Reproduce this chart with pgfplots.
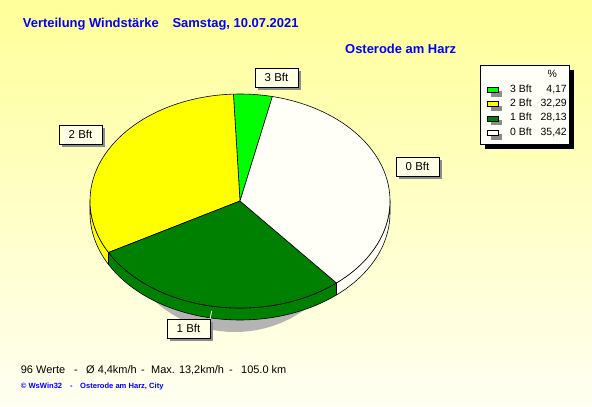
\documentclass[border=0pt]{standalone}
\usepackage{pgfplots}
\pgfplotsset{compat=1.18}
\usepackage{pgfplotstable}
\usepackage{fontspec}
\setmainfont{Liberation Sans}

\definecolor{bgtop}{HTML}{FFFF99}
\definecolor{bgbot}{HTML}{FFFFF2}
\definecolor{bft3}{HTML}{00FF00}
\definecolor{bft2}{HTML}{FFFF00}
\definecolor{bft1}{HTML}{008000}
\definecolor{bft0}{HTML}{FFFFF8}
\definecolor{tblue}{HTML}{0000FF}
\definecolor{boxfill}{HTML}{FFFFE6}
\definecolor{legfill}{HTML}{FFFFF8}
\definecolor{shgray}{HTML}{8C8C8C}
\definecolor{pieshadow}{HTML}{B4B4B4}

% Windstaerke-Verteilung in Prozent
\pgfplotstableread{
bft pct
3 4.17
2 32.29
1 28.13
0 35.42
}\piedata

\pgfplotstablegetelem{0}{pct}\of\piedata \let\pA\pgfplotsretval
\pgfplotstablegetelem{1}{pct}\of\piedata \let\pB\pgfplotsretval
\pgfplotstablegetelem{2}{pct}\of\piedata \let\pC\pgfplotsretval
\pgfplotstablegetelem{3}{pct}\of\piedata \let\pD\pgfplotsretval

\pgfmathsetmacro\aS{77.5}
\pgfmathsetmacro\aA{\aS+3.6*\pA}
\pgfmathsetmacro\aB{\aA+3.6*\pB}
\pgfmathsetmacro\aC{\aB+3.6*\pC}
\pgfmathsetmacro\aD{\aC+3.6*\pD}

\newcommand{\slice}[3]{%
  \filldraw[fill=#3, draw=black, line width=0.6bp, line join=round]
    (axis cs:240,201) -- ++(#1:150bp and 107bp)
    arc[start angle=#1, end angle=#2, x radius=150bp, y radius=107bp] -- cycle;}
\newcommand{\side}[3]{%
  \filldraw[fill=#3, draw=black, line width=0.6bp, line join=round]
    (axis cs:240,201) ++(#1:150bp and 107bp)
    arc[start angle=#1, end angle=#2, x radius=150bp, y radius=107bp]
    -- ++(0,-12bp)
    arc[start angle=#2, end angle=#1, x radius=150bp, y radius=107bp] -- cycle;}

\begin{document}
\begin{tikzpicture}
\begin{axis}[width=592bp, height=407bp, scale only axis,
  xmin=0, xmax=592, ymin=0, ymax=407, y dir=reverse,
  axis lines=none, ticks=none, clip=false]

% background
\shade[top color=bgtop, bottom color=bgbot] (axis cs:0,0) rectangle (axis cs:592,407);

% pie shadow
\fill[pieshadow] (axis cs:235,216) ellipse[x radius=118bp, y radius=116bp];

% pie sides (front)
\side{180}{\aB}{bft2}
\side{\aB}{\aC}{bft1}
\side{\aC}{360}{bft0}

% pie top
\slice{\aS}{\aA}{bft3}
\slice{\aA}{\aB}{bft2}
\slice{\aB}{\aC}{bft1}
\slice{\aC}{\aD}{bft0}

% leader lines
\addplot[white, line width=0.9bp] coordinates {(254.5,93) (255.5,87)};
\addplot[white, line width=0.9bp] coordinates {(388,178.5) (396,176)};
\addplot[white, line width=0.9bp] coordinates {(211.7,311) (210,319)};
\addplot[white, line width=0.9bp] coordinates {(102,144) (104,148)};

% label boxes
\fill[shgray] (axis cs:258,71) rectangle (axis cs:301,90);
\filldraw[fill=boxfill, draw=black, line width=0.6bp] (axis cs:255,68) rectangle (axis cs:298,87);
\node[font=\fontsize{11.5}{13}\selectfont, inner sep=0] at (axis cs:276.5,77.5) {3 Bft};

\fill[shgray] (axis cs:62,128) rectangle (axis cs:105,147);
\filldraw[fill=boxfill, draw=black, line width=0.6bp] (axis cs:59,125) rectangle (axis cs:102,144);
\node[font=\fontsize{11.5}{13}\selectfont, inner sep=0] at (axis cs:80.5,134.5) {2 Bft};

\fill[shgray] (axis cs:399,160) rectangle (axis cs:442,179);
\filldraw[fill=boxfill, draw=black, line width=0.6bp] (axis cs:396,157) rectangle (axis cs:439,176);
\node[font=\fontsize{11.5}{13}\selectfont, inner sep=0] at (axis cs:417.5,166.5) {0 Bft};

\fill[shgray] (axis cs:170,322) rectangle (axis cs:213,341);
\filldraw[fill=boxfill, draw=black, line width=0.6bp] (axis cs:167,319) rectangle (axis cs:210,338);
\node[font=\fontsize{11.5}{13}\selectfont, inner sep=0] at (axis cs:188.5,328.5) {1 Bft};

% legend
\fill[black] (axis cs:485,70) rectangle (axis cs:574,149);
\filldraw[fill=legfill, draw=black, line width=0.6bp] (axis cs:480,65) rectangle (axis cs:569,144);
\node[anchor=base east, font=\fontsize{10.5}{12}\selectfont, inner sep=0] at (axis cs:557,77.7) {\%};

\fill[shgray] (axis cs:490.5,91.3) rectangle (axis cs:502,96.7);
\filldraw[fill=bft3, draw=black, line width=0.6bp] (axis cs:487.3,87.3) rectangle (axis cs:498.3,92.3);
\node[anchor=base west, font=\fontsize{10.5}{12}\selectfont, inner sep=0] at (axis cs:510,92.3) {3 Bft};
\node[anchor=base east, font=\fontsize{10.5}{12}\selectfont, inner sep=0] at (axis cs:567,92.3) {4,17};

\fill[shgray] (axis cs:490.5,105.6) rectangle (axis cs:502,111);
\filldraw[fill=bft2, draw=black, line width=0.6bp] (axis cs:487.3,101.6) rectangle (axis cs:498.3,106.6);
\node[anchor=base west, font=\fontsize{10.5}{12}\selectfont, inner sep=0] at (axis cs:510,106.6) {2 Bft};
\node[anchor=base east, font=\fontsize{10.5}{12}\selectfont, inner sep=0] at (axis cs:567,106.6) {32,29};

\fill[shgray] (axis cs:490.5,119.9) rectangle (axis cs:502,125.3);
\filldraw[fill=bft1, draw=black, line width=0.6bp] (axis cs:487.3,115.9) rectangle (axis cs:498.3,120.9);
\node[anchor=base west, font=\fontsize{10.5}{12}\selectfont, inner sep=0] at (axis cs:510,120.9) {1 Bft};
\node[anchor=base east, font=\fontsize{10.5}{12}\selectfont, inner sep=0] at (axis cs:567,120.9) {28,13};

\fill[shgray] (axis cs:490.5,134.2) rectangle (axis cs:502,139.6);
\filldraw[fill=white, draw=black, line width=0.6bp] (axis cs:487.3,130.2) rectangle (axis cs:498.3,135.2);
\node[anchor=base west, font=\fontsize{10.5}{12}\selectfont, inner sep=0] at (axis cs:510,135.2) {0 Bft};
\node[anchor=base east, font=\fontsize{10.5}{12}\selectfont, inner sep=0] at (axis cs:567,135.2) {35,42};

% titles
\node[anchor=base west, text=tblue, font=\fontsize{13}{15}\selectfont\bfseries, inner sep=0] at (axis cs:22.7,28) {Verteilung Windstärke};
\node[anchor=base west, text=tblue, font=\fontsize{13}{15}\selectfont\bfseries, inner sep=0] at (axis cs:172.3,28) {Samstag, 10.07.2021};
\node[anchor=base west, text=tblue, font=\fontsize{13}{15}\selectfont\bfseries, inner sep=0] at (axis cs:345,53.5) {Osterode am Harz};

% footer
\node[anchor=base west, font=\fontsize{11}{13}\selectfont, inner sep=0] at (axis cs:20.7,373.3) {96 Werte};
\node[anchor=base west, font=\fontsize{11}{13}\selectfont, inner sep=0] at (axis cs:74,373.3) {-};
\node[anchor=base west, font=\fontsize{11}{13}\selectfont, inner sep=0] at (axis cs:86,373.3) {Ø 4,4km/h};
\node[anchor=base west, font=\fontsize{11}{13}\selectfont, inner sep=0] at (axis cs:141,373.3) {-};
\node[anchor=base west, font=\fontsize{11}{13}\selectfont, inner sep=0] at (axis cs:151,373.3) {Max. 13,2km/h};
\node[anchor=base west, font=\fontsize{11}{13}\selectfont, inner sep=0] at (axis cs:229,373.3) {-};
\node[anchor=base west, font=\fontsize{11}{13}\selectfont, inner sep=0] at (axis cs:241,373.3) {105.0 km};

\node[anchor=base west, text=tblue, font=\fontsize{7.6}{9}\selectfont\bfseries, inner sep=0] at (axis cs:20.7,388.5) {© WsWin32};
\node[anchor=base west, text=tblue, font=\fontsize{7.6}{9}\selectfont\bfseries, inner sep=0] at (axis cs:70,388.5) {-};
\node[anchor=base west, text=tblue, font=\fontsize{7.6}{9}\selectfont\bfseries, inner sep=0] at (axis cs:80,388.5) {Osterode am Harz, City};
\end{axis}
\end{tikzpicture}
\end{document}
